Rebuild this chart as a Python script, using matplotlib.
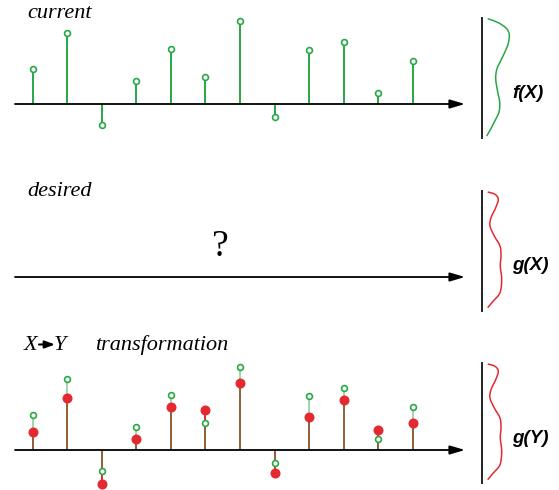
import numpy as np
import matplotlib
matplotlib.use('Agg')
import matplotlib.pyplot as plt
from matplotlib.path import Path
from matplotlib.patches import PathPatch, FancyArrowPatch

# sample values (heights above the axis)
current = [35, 71, -21, 23, 55, 27, 83, -13, 54, 62, 11, 43]
transformed = [18, 52, -34, 11, 43, 40, 67, -23, 33, 50, 20, 27]

# density sketches, read along the vertical axis (level, density)
f_level = [119.3, 115.3, 109.3, 102.7, 92.7, 79.3, 69.3, 59.3, 46, 36, 26, 16, 7.7, 2]
f_dens = [5.7, 16.3, 24.7, 27.3, 25.7, 19.7, 15, 13.7, 15.7, 17.7, 17, 12.3, 8, 4.7]
g_level = [119, 116.7, 111.7, 103.3, 93.3, 85, 75, 65, 55, 45, 31.7, 18.3, 10, 3.3]
g_dens = [5.7, 13, 16.3, 13.7, 9, 8, 12.3, 18, 19, 18.3, 19.7, 18, 11.3, 5.7]

titles = ['current', 'desired', 'X', 'Y', 'transformation']
dens_labels = ['f(X)', 'g(X)', 'g(Y)']

GREEN = '#27a844'
RED = '#e42930'
W, H = 559, 490

fig = plt.figure(figsize=(W / 100, H / 100), dpi=100)


def add_px_axes(x0, y0, x1, y1):
    # pixel box (top-left origin) -> figure axes
    return fig.add_axes([x0 / W, 1 - y1 / H, (x1 - x0) / W, (y1 - y0) / H])


def smooth_path(xs, ys):
    # draw a smooth stroke through the sketch points (catmull-rom as beziers)
    p = np.column_stack([xs, ys]).astype(float)
    verts = [p[0]]
    codes = [Path.MOVETO]
    for i in range(len(p) - 1):
        p0 = p[max(i - 1, 0)]
        p1, p2 = p[i], p[i + 1]
        p3 = p[min(i + 2, len(p) - 1)]
        verts += [p1 + (p2 - p0) / 6, p2 - (p3 - p1) / 6, p2]
        codes += [Path.CURVE4] * 3
    return Path(verts, codes)


def axis_arrow(ax):
    ax.annotate('', xy=(1, 0), xytext=(0, 0), xycoords=('axes fraction', 'data'),
                arrowprops=dict(arrowstyle='-|>,head_length=0.75,head_width=0.22',
                                color='black', lw=1.3, shrinkA=0, shrinkB=0,
                                mutation_scale=12))


def stem_axes(y_axis, y_top, y_bot):
    ax = add_px_axes(15, y_top, 465, y_bot)
    ax.set_xlim(-0.52, 12.52)
    ax.set_ylim(-(y_bot - y_axis), y_axis - y_top)
    ax.axis('off')
    axis_arrow(ax)
    return ax


def dens_axes(y_top, y_bot, level, dens, color, label):
    ax = add_px_axes(482, y_top, 550, y_bot)
    ax.set_xlim(0, 68)
    ax.set_ylim(0, y_bot - y_top)
    for s in ['top', 'right', 'bottom']:
        ax.spines[s].set_visible(False)
    ax.spines['left'].set_linewidth(1.4)
    ax.spines['left'].set_color('#222222')
    ax.set_xticks([])
    ax.set_yticks([])
    ax.patch.set_alpha(0)
    ax.add_patch(PathPatch(smooth_path(dens, level), fill=False,
                           edgecolor=color, lw=1.1))
    ax.text(30, 45, label, fontsize=13.5, fontweight='bold', fontstyle='italic',
            family='Liberation Sans', va='center', ha='left')
    return ax


x = np.arange(len(current))

# current
ax1 = stem_axes(104, 12, 140)
ax1.vlines(x, 0, current, color=GREEN, lw=1.4)
ax1.plot(x, current, 'o', ms=4.2, mfc='white', mec=GREEN, mew=1.2)
dens_axes(18, 138, f_level, f_dens, GREEN, dens_labels[0])

# desired
ax2 = stem_axes(277, 200, 300)
ax2.text(5.42, 30, '?', fontsize=27, family='Liberation Serif',
         ha='center', va='center')
dens_axes(191, 311, g_level, g_dens, RED, dens_labels[1])

# transformation
ax3 = stem_axes(450, 358, 490)
ax3.vlines(x, 0, transformed, color=RED, lw=1.4)
ax3.vlines(x, 0, current, color=GREEN, lw=1.4, alpha=0.45)
ax3.plot(x, current, 'o', ms=4.2, mfc='white', mec=GREEN, mew=1.2, zorder=4)
ax3.plot(x, transformed, 'o', ms=6.2, color=RED, zorder=5)
dens_axes(363, 483, g_level, g_dens, RED, dens_labels[2])

# panel titles
serif = dict(fontsize=16, family='Liberation Serif', fontstyle='italic', va='baseline')
fig.text(27 / W, 1 - 18 / H, titles[0], **serif)
fig.text(27 / W, 1 - 196 / H, titles[1], **serif)
fig.text(24 / W, 1 - 350 / H, titles[2], **serif)
fig.text(54 / W, 1 - 350 / H, titles[3], **serif)
fig.text(95 / W, 1 - 350 / H, titles[4], **serif)
fig.add_artist(FancyArrowPatch(
    (39 / W, 1 - 344.5 / H), (55 / W, 1 - 344.5 / H), transform=fig.transFigure,
    arrowstyle='-|>,head_length=0.6,head_width=0.22', mutation_scale=10,
    color='black', lw=1.5, shrinkA=0, shrinkB=0))

fig.savefig('out.png', dpi=100)
